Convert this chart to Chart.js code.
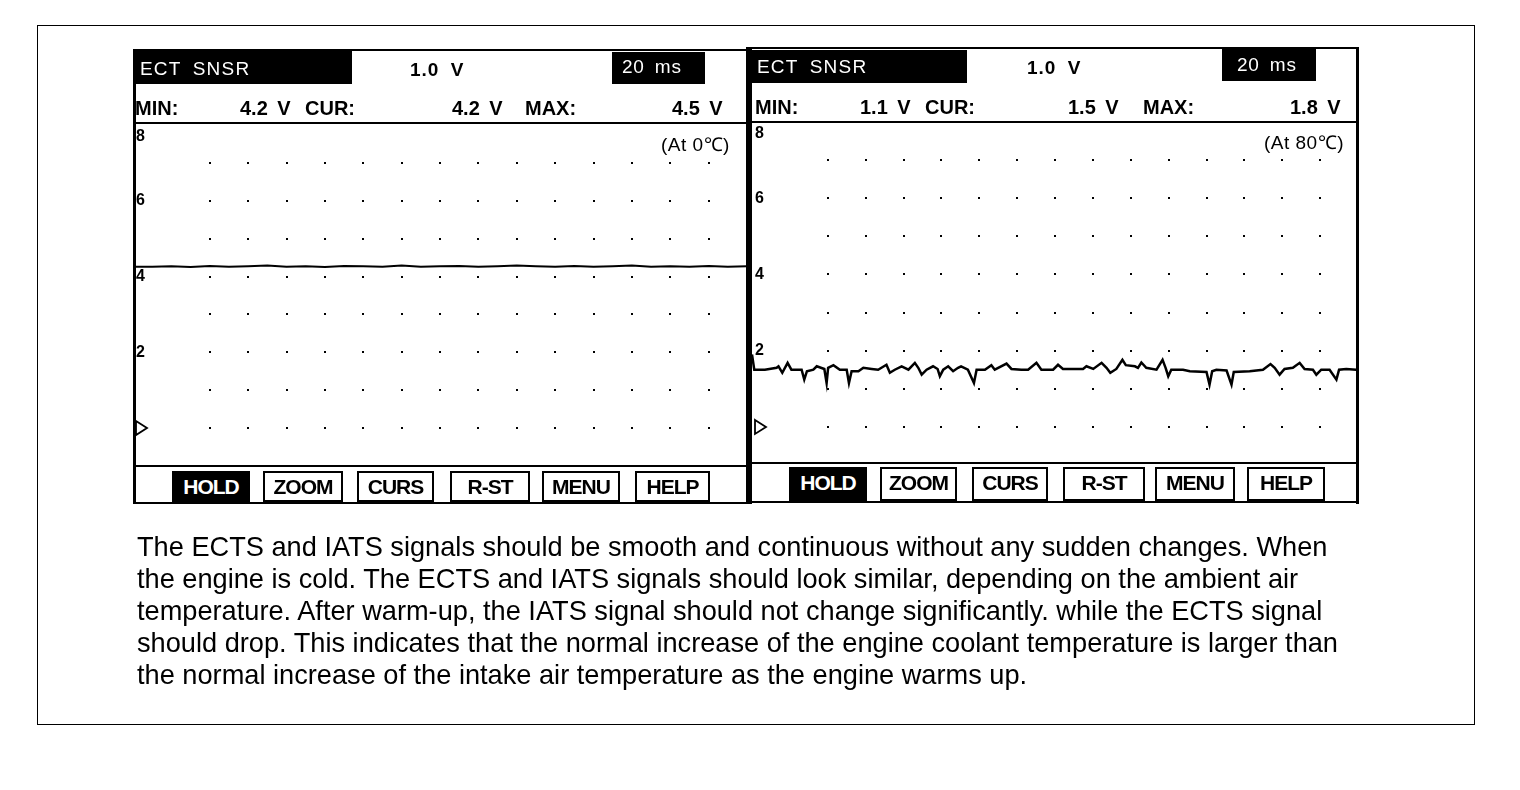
<!DOCTYPE html>
<html><head><meta charset="utf-8">
<script src="https://cdn.jsdelivr.net/npm/chart.js@4.4.1/dist/chart.umd.min.js"></script>
<style>
html,body{margin:0;padding:0;background:#fff;width:1520px;height:790px;overflow:hidden;font-family:"Liberation Sans",Arial,sans-serif;color:#000}
.ln{position:absolute;background:#000}
.t{position:absolute;white-space:nowrap;height:30px;line-height:30px}
.btn{position:absolute;box-sizing:border-box;border:2px solid #000;background:#fff;font-weight:bold;font-size:21px;text-align:center;letter-spacing:-1px;line-height:28px}
.btn.on{background:#000;color:#fff}
canvas{position:absolute}
#para{position:absolute;left:137px;top:531px;font-size:27.2px;line-height:32px;white-space:nowrap}
</style></head><body>
<div id="root"></div>
<script>
// ---------------- data ----------------
const panelTitles = ['ECT SNSR', 'ECT SNSR'];
const voltsPerDiv = ['1.0 V', '1.0 V'];
const timeBase = ['20 ms', '20 ms'];
const minValues = ['4.2 V', '1.1 V'];
const curValues = ['4.2 V', '1.5 V'];
const maxValues = ['4.5 V', '1.8 V'];
const conditions = ['(At 0\u2103)', '(At 80\u2103)'];
const buttonLabels = ['HOLD', 'ZOOM', 'CURS', 'R-ST', 'MENU', 'HELP'];
const yTickValues = [0, 2, 4, 6, 8];
const yTickLabels = ['\u25B7', '2', '4', '6', '8'];
const gridCols = [2, 3, 4, 5, 6, 7, 8, 9, 10, 11, 12, 13, 14, 15];
const gridRows = [0, 1, 2, 3, 4, 5, 6, 7];

// left scope trace (time in divisions, volts)
const leftTime = [0, 0.5, 1, 1.5, 2, 2.5, 3, 3.5, 4, 4.5, 5, 5.5, 6, 6.5, 7, 7.5, 8, 8.5, 9, 9.5, 10, 10.5, 11, 11.5, 12, 12.5, 13, 13.5, 14, 14.5, 15, 15.5, 16];
const leftVolts = [4.26, 4.26, 4.27, 4.25, 4.28, 4.26, 4.27, 4.29, 4.26, 4.27, 4.25, 4.28, 4.27, 4.26, 4.29, 4.26, 4.27, 4.28, 4.26, 4.27, 4.29, 4.27, 4.26, 4.28, 4.26, 4.27, 4.29, 4.26, 4.27, 4.26, 4.28, 4.26, 4.27];

// right scope trace
const rightTime = [0, 0.06, 0.34, 0.65, 0.70, 0.80, 0.94, 1.04, 1.31, 1.38, 1.45, 1.62, 1.71, 1.91, 1.97, 2.01, 2.15, 2.32, 2.50, 2.56, 2.63, 2.81, 2.94, 3.16, 3.33, 3.55, 3.64, 3.77, 3.95, 4.13, 4.30, 4.39, 4.48, 4.61, 4.78, 4.90, 4.96, 5.05, 5.18, 5.31, 5.44, 5.52, 5.70, 5.86, 5.93, 6.15, 6.32, 6.41, 6.72, 6.85, 7.11, 7.29, 7.51, 7.64, 7.95, 8.08, 8.21, 8.74, 8.83, 9.01, 9.23, 9.36, 9.46, 9.62, 9.78, 9.87, 10.11, 10.19, 10.28, 10.41, 10.68, 10.84, 10.92, 10.99, 11.07, 11.38, 11.56, 12.00, 12.08, 12.15, 12.26, 12.53, 12.66, 12.72, 13.14, 13.49, 13.69, 13.80, 13.93, 14.06, 14.28, 14.46, 14.59, 14.81, 14.90, 15.03, 15.25, 15.43, 15.50, 15.69, 15.95, 16];
const rightVolts = [1.90, 1.50, 1.50, 1.55, 1.59, 1.42, 1.68, 1.50, 1.50, 1.24, 1.46, 1.50, 1.59, 1.52, 1.15, 1.55, 1.62, 1.50, 1.50, 1.15, 1.46, 1.46, 1.55, 1.52, 1.50, 1.63, 1.42, 1.50, 1.59, 1.50, 1.68, 1.55, 1.37, 1.50, 1.59, 1.52, 1.33, 1.50, 1.59, 1.46, 1.55, 1.59, 1.50, 1.15, 1.50, 1.50, 1.62, 1.50, 1.66, 1.52, 1.50, 1.50, 1.68, 1.50, 1.50, 1.63, 1.52, 1.52, 1.59, 1.52, 1.68, 1.55, 1.42, 1.52, 1.76, 1.62, 1.59, 1.55, 1.69, 1.55, 1.50, 1.76, 1.55, 1.33, 1.50, 1.50, 1.46, 1.44, 1.11, 1.46, 1.50, 1.48, 1.11, 1.44, 1.46, 1.50, 1.65, 1.55, 1.37, 1.52, 1.55, 1.68, 1.52, 1.50, 1.37, 1.50, 1.50, 1.24, 1.50, 1.52, 1.50, 1.50];

const paragraphLines = [
  'The ECTS and IATS signals should be smooth and continuous without any sudden changes. When',
  'the engine is cold. The ECTS and IATS signals should look similar, depending on the ambient air',
  'temperature. After warm-up, the IATS signal should not change significantly. while the ECTS signal',
  'should drop. This indicates that the normal increase of the engine coolant temperature is larger than',
  'the normal increase of the intake air temperature as the engine warms up.'
];

// ---------------- layout ----------------
const root = document.getElementById('root');
function box(x, y, w, h, cls, extra) {
  const d = document.createElement('div');
  d.className = cls || 'ln';
  d.style.left = x + 'px'; d.style.top = y + 'px';
  d.style.width = w + 'px'; d.style.height = h + 'px';
  if (extra) Object.assign(d.style, extra);
  root.appendChild(d);
  return d;
}
function txt(x, yc, s, style) {
  const d = document.createElement('div');
  d.className = 't';
  d.textContent = s;
  d.style.left = x + 'px';
  d.style.top = (yc - 15) + 'px';
  Object.assign(d.style, style || {});
  root.appendChild(d);
  return d;
}

const panels = [
  { x0: 133, x1: 747, top: 49, titleBox: [133, 51, 219, 33], tbY: 69, msBox: [612, 52, 93, 32],
    titleX: 140, voltX: 410, msX: 622, minY: 108, minXs: [135, 240, 305, 452, 525, 672],
    hdrLine: 122, plotTop: 125, plotH: 341, plotBottom: 465, bottom: 502, condX: 661, condY: 145,
    btnTop: 471, btnXs: [[172, 250], [263, 343], [357, 434], [450, 530], [542, 620], [635, 710]] },
  { x0: 752, x1: 1358, top: 47, titleBox: [752, 50, 215, 33], tbY: 67, msBox: [1222, 49, 94, 32],
    titleX: 757, voltX: 1027, msX: 1237, minY: 107, minXs: [755, 860, 925, 1068, 1143, 1290],
    hdrLine: 121, plotTop: 122, plotH: 343, plotBottom: 462, bottom: 501, condX: 1264, condY: 143,
    btnTop: 467, btnXs: [[789, 867], [880, 957], [972, 1048], [1063, 1145], [1155, 1235], [1247, 1325]] }
];

// scope grid plugin: dots + y labels drawn through the scales
const scopeGrid = {
  id: 'scopeGrid',
  beforeDatasetsDraw(chart) {
    const ctx = chart.ctx, xs = chart.scales.x, ys = chart.scales.y;
    ctx.save();
    ctx.fillStyle = '#000';
    gridRows.forEach(r => gridCols.forEach(c => {
      const px = Math.round(xs.getPixelForValue(c)), py = Math.round(ys.getPixelForValue(r));
      ctx.fillRect(px - 1, py - 1, 2, 2);
    }));
    ctx.font = 'bold 16px "Liberation Sans", Arial, sans-serif';
    ctx.textAlign = 'left';
    ctx.textBaseline = 'middle';
    yTickValues.forEach((v, i) => {
      let py = ys.getPixelForValue(v);
      if (py < chart.chartArea.top + 12) py = chart.chartArea.top + 12;
      const lx = chart.chartArea.left + 3;
      if (yTickLabels[i] === '\u25B7') {
        ctx.beginPath();
        ctx.lineWidth = 1.8;
        ctx.strokeStyle = '#000';
        ctx.moveTo(lx, py - 7); ctx.lineTo(lx + 11, py); ctx.lineTo(lx, py + 7); ctx.closePath();
        ctx.stroke();
      } else {
        ctx.fillText(yTickLabels[i], lx, py);
      }
    });
    ctx.restore();
  }
};

function makeChart(p, times, volts, lw) {
  const c = document.createElement('canvas');
  const w = p.x1 - p.x0;
  c.width = w; c.height = p.plotH;
  c.style.left = p.x0 + 'px'; c.style.top = p.plotTop + 'px';
  c.style.width = w + 'px'; c.style.height = p.plotH + 'px';
  root.appendChild(c);
  new Chart(c.getContext('2d'), {
    type: 'line',
    data: { datasets: [{ data: times.map((t, i) => ({ x: t, y: volts[i] })), borderColor: '#000', borderWidth: lw, pointRadius: 0, tension: 0, fill: false }] },
    options: {
      responsive: false, animation: false, devicePixelRatio: 1,
      layout: { padding: 0 },
      plugins: { legend: { display: false }, tooltip: { enabled: false } },
      scales: {
        x: { type: 'linear', min: 0, max: 16, display: false },
        y: { type: 'linear', min: -1, max: 8, display: false }
      }
    },
    plugins: [scopeGrid]
  });
}

makeChart(panels[0], leftTime, leftVolts, 2);
makeChart(panels[1], rightTime, rightVolts, 2.5);

// outer frame
box(37, 25, 1438, 700, 'ln', { background: 'transparent', border: '1.5px solid #000', boxSizing: 'border-box' });

panels.forEach((p, i) => {
  // header boxes
  box(p.titleBox[0], p.titleBox[1], p.titleBox[2], p.titleBox[3]);
  box(p.msBox[0], p.msBox[1], p.msBox[2], p.msBox[3]);
  txt(p.titleX, p.tbY, panelTitles[i], { color: '#fff', fontSize: '19px', letterSpacing: '1.2px', wordSpacing: '5px' });
  txt(p.voltX, p.tbY + 1, voltsPerDiv[i], { fontSize: '19px', fontWeight: 'bold', letterSpacing: '1px', wordSpacing: '5px' });
  txt(p.msX, p.tbY - 2, timeBase[i], { color: '#fff', fontSize: '19px', letterSpacing: '0.8px', wordSpacing: '4px' });
  const bold = { fontSize: '20px', fontWeight: 'bold', letterSpacing: '0px', wordSpacing: '4px' };
  txt(p.minXs[0], p.minY, 'MIN:', bold);
  txt(p.minXs[1], p.minY, minValues[i], bold);
  txt(p.minXs[2], p.minY, 'CUR:', bold);
  txt(p.minXs[3], p.minY, curValues[i], bold);
  txt(p.minXs[4], p.minY, 'MAX:', bold);
  txt(p.minXs[5], p.minY, maxValues[i], bold);
  txt(p.condX, p.condY, conditions[i], { fontSize: '19px', letterSpacing: '0.5px' });
  // panel lines
  box(p.x0, p.top, p.x1 - p.x0, 2);
  box(p.x0, p.hdrLine, p.x1 - p.x0, 2);
  box(p.x0, p.plotBottom, p.x1 - p.x0, 2);
  box(p.x0, p.bottom, p.x1 - p.x0, 2);
  // buttons
  p.btnXs.forEach((b, j) => {
    const d = box(b[0], p.btnTop, b[1] - b[0], p.bottom - p.btnTop, j === 0 ? 'btn on' : 'btn');
    d.textContent = buttonLabels[j];
  });
});
// vertical borders
box(133, 49, 3, 455);
box(746, 47, 6, 457);
box(1356, 47, 3, 457);

// paragraph
const para = document.createElement('div');
para.id = 'para';
para.innerHTML = paragraphLines.map(s => s.replace(/&/g, '&amp;')).join('<br>');
root.appendChild(para);
</script>
</body></html>
